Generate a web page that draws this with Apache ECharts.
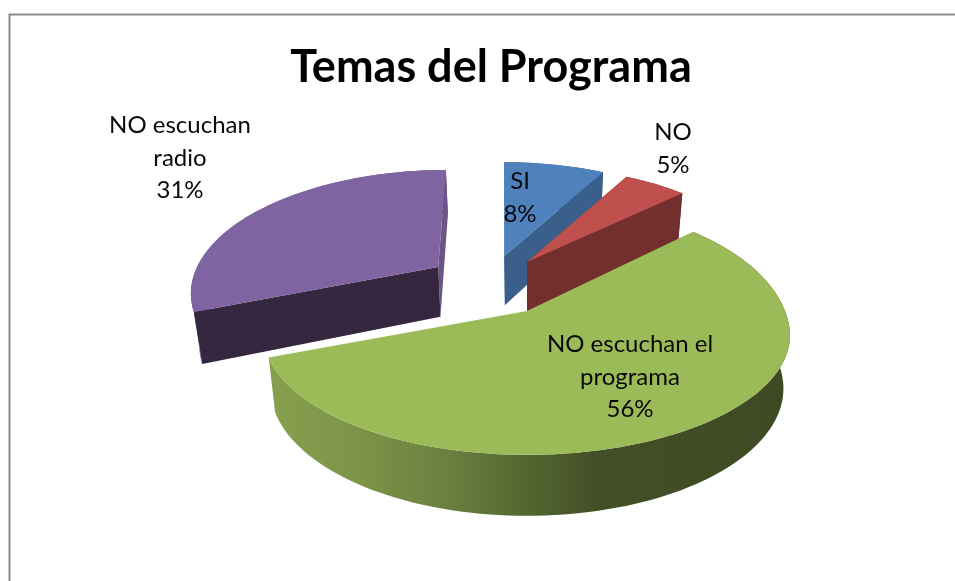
<!DOCTYPE html>
<html><head><meta charset="utf-8">
<style>html,body{margin:0;padding:0;background:#fff}#c{width:955px;height:581px}</style>
<script src="https://cdn.jsdelivr.net/npm/echarts@6/dist/echarts.min.js"></script>
</head><body><div id="c"></div>
<script>
const titleText = 'Temas del Programa';
const categories = ['SI', 'NO', 'NO escuchan el programa', 'NO escuchan radio'];
const values = [8, 5, 56, 31];
const labelLines = [['SI'], ['NO'], ['NO escuchan el', 'programa'], ['NO escuchan', 'radio']];

// projection of the tilted pie
const cx = 527, cy = 311, RX = 258, RY = 131, K = 0.194, BOTTOM_SCALE = 0.975, DEPTH = 52;
const explodes = [[-0.096, -0.457], [0, -0.403], [0, 0], [-0.368, -0.36]];
const shears = [3.5, 0, 0, 6];
const labelPos = [[520, 198], [673, 149], [630, 377], [180, 158]];
const ranks = [0, 1, 3, 2];
const topColors = ['#4f81bd', '#c0504d', '#9bbb59', '#8064a2'];
const startFaceColors = ['#2f4f78', '#722f2d', null, '#35273f'];
const endFaceColors = ['#3a5f8b', '#722f2d', null, '#6b5487'];
const wallColors = [
  '#3a5f8b', '#722f2d',
  { type: 'linear', x: 0, y: 0, x2: 1, y2: 0, colorStops: [
    { offset: 0, color: '#86a04f' }, { offset: 0.17, color: '#7d9447' },
    { offset: 0.34, color: '#6b8040' }, { offset: 0.5, color: '#536530' },
    { offset: 0.63, color: '#434f26' }, { offset: 1, color: '#3e4a23' }] },
  '#6b5487'
];
const total = values.reduce((a, b) => a + b, 0);

function project(u, v, low, i) {
  const s = 1 / (1 - K * v);
  const flatten = v > 0 ? 1 - 0.115 * (1 - Math.exp(-v / 0.15)) : 1;
  const x = RX * u * s + shears[i] * (v - explodes[i][1]), y = RY * v * s * flatten;
  return low ? [cx + x * BOTTOM_SCALE, cy + y * BOTTOM_SCALE + DEPTH * s] : [cx + x, cy + y];
}
function rimPoint(a, i, low) {
  const off = explodes[i];
  return project(off[0] + Math.sin(a), off[1] - Math.cos(a), low, i);
}
function arc(a0, a1, i, low) {
  const pts = [], n = Math.max(4, Math.ceil((a1 - a0) / 0.03));
  for (let t = 0; t <= n; t++) pts.push(rimPoint(a0 + (a1 - a0) * t / n, i, low));
  return pts;
}
function poly(points, fill, z2) {
  return { type: 'polygon', shape: { points }, style: { fill }, z2, silent: true };
}
function renderItem(params, api) {
  const i = api.value(0);
  let before = 0;
  for (let j = 0; j < i; j++) before += values[j];
  const a0 = before / total * 2 * Math.PI;
  const a1 = (before + api.value(1)) / total * 2 * Math.PI;
  const off = explodes[i], z = ranks[i] * 10;
  const topArc = arc(a0, a1, i, false), lowArc = arc(a0, a1, i, true);
  const apexT = project(off[0], off[1], false, i), apexB = project(off[0], off[1], true, i);
  const children = [poly(topArc.concat(lowArc.slice().reverse()), wallColors[i], z + 1)];
  if (startFaceColors[i]) children.push(poly([apexT, rimPoint(a0, i, false), rimPoint(a0, i, true), apexB], startFaceColors[i], z + 2));
  if (endFaceColors[i]) children.push(poly([apexT, rimPoint(a1, i, false), rimPoint(a1, i, true), apexB], endFaceColors[i], i < 2 ? z + 3 : z + 1));
  children.push(poly([apexT].concat(topArc), topColors[i], z + 4));
  const lines = labelLines[i].concat([api.value(1) + '%']);
  children.push({
    type: 'text', z2: 100, silent: true,
    style: {
      x: labelPos[i][0], y: labelPos[i][1], text: lines.join('\n'),
      fill: '#0a0a0a', font: '400 24px Lato', align: 'center', verticalAlign: 'middle',
      lineHeight: 32.5
    }
  });
  return { type: 'group', children };
}
const chart = echarts.init(document.getElementById('c'), null, { renderer: 'canvas' });
chart.setOption({
  animation: false,
  backgroundColor: '#ffffff',
  title: {
    text: titleText, left: 486, top: 40, textAlign: 'center',
    textStyle: { fontFamily: 'Lato', fontSize: 45, fontWeight: 'bold', color: '#000' }
  },
  graphic: [{
    type: 'rect', silent: true, z: -1,
    shape: { x: 9.5, y: 14.5, width: 1000, height: 620 },
    style: { fill: 'transparent', stroke: '#8c8c8c', lineWidth: 2 }
  }],
  series: [{
    type: 'custom', coordinateSystem: 'none', renderItem, silent: true,
    data: values.map((v, i) => ({ name: categories[i], value: [i, v] }))
  }]
});
</script></body></html>
